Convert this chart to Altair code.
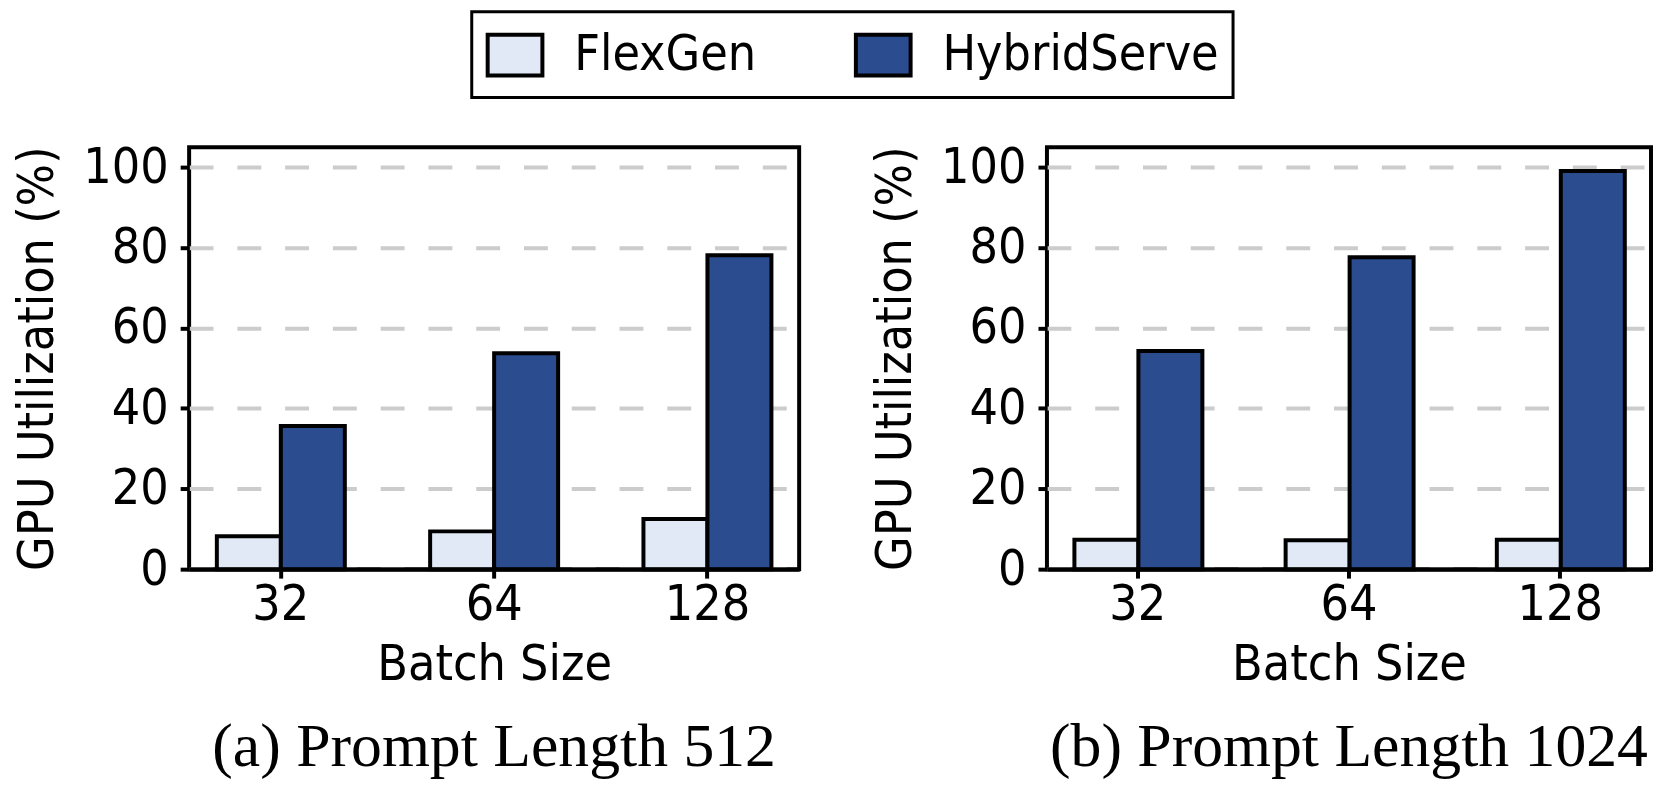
import altair as alt
import pandas as pd

batch_sizes = ["32", "64", "128"]
systems = ["FlexGen", "HybridServe"]
flexgen_512 = [8.2, 9.4, 12.5]
hybrid_512 = [35.6, 53.7, 78.1]
flexgen_1024 = [7.3, 7.2, 7.3]
hybrid_1024 = [54.3, 77.6, 99.1]
y_ticks = [0, 20, 40, 60, 80, 100]
subtitles = ["(a) Prompt Length 512", "(b) Prompt Length 1024"]
colors = ["#e1e9f6", "#2b4c8e"]

SANS = "DejaVu Sans Condensed, DejaVu Sans"
SERIF = "Liberation Serif"


def make_df(flex, hyb):
    rows = []
    for b, f, h in zip(batch_sizes, flex, hyb):
        rows.append({"batch": b, "system": "FlexGen", "util": f})
        rows.append({"batch": b, "system": "HybridServe", "util": h})
    return pd.DataFrame(rows)


def panel(df, subtitle, width):
    return alt.Chart(df).mark_bar(stroke="black", strokeWidth=4, strokeJoin="miter").encode(
        x=alt.X("batch:N", sort=batch_sizes,
                scale=alt.Scale(paddingInner=0.4, paddingOuter=0.13),
                axis=alt.Axis(title="Batch Size", labelAngle=0, domain=True,
                              domainColor="black", domainWidth=4, zindex=1)),
        xOffset=alt.XOffset("system:N", sort=systems,
                            scale=alt.Scale(paddingInner=0, paddingOuter=0)),
        y=alt.Y("util:Q", scale=alt.Scale(domain=[0, 105], nice=False),
                axis=alt.Axis(title="GPU Utilization (%)", values=y_ticks)),
        color=alt.Color("system:N", sort=systems,
                        scale=alt.Scale(domain=systems, range=colors),
                        legend=alt.Legend(title=None)),
    ).properties(
        width=width, height=424,
        title=alt.TitleParams(subtitle, orient="bottom", font=SERIF, fontSize=62,
                              fontWeight="normal", color="black", offset=28),
    )


left = panel(make_df(flexgen_512, hybrid_512), subtitles[0], 613)
right = panel(make_df(flexgen_1024, hybrid_1024), subtitles[1], 607)

chart = alt.hconcat(left, right, spacing=68).properties(
    padding={"left": 3, "top": 0, "right": 0, "bottom": 0},
).configure_view(
    stroke="black", strokeWidth=4,
).configure_axis(
    domain=False,
    labelFont=SANS, labelFontSize=50, labelColor="black",
    titleFont=SANS, titleFontSize=50, titleFontWeight="normal", titleColor="black",
    titleLimit=1000, labelLimit=1000,
    tickColor="black", tickWidth=4, tickSize=9,
    grid=False,
).configure_axisY(
    grid=True, gridColor="#cccccc", gridWidth=4, gridDash=[24, 24],
    labelPadding=12, titlePadding=20,
).configure_axisX(
    labelPadding=2, titlePadding=10,
).configure_legend(
    orient="none", legendX=284, legendY=-136, direction="horizontal",
    labelFont=SANS, labelFontSize=50, labelColor="black", labelLimit=1000,
    symbolType="M-1,-0.745L1,-0.745L1,0.745L-1,0.745Z", symbolSize=3025,
    symbolStrokeColor="black", symbolStrokeWidth=4,
    labelOffset=30, columnPadding=92, padding=14,
    strokeColor="black", strokeWidth=3, cornerRadius=0,
)

chart.save("out.html", embed_options={"renderer": "svg", "actions": False})
